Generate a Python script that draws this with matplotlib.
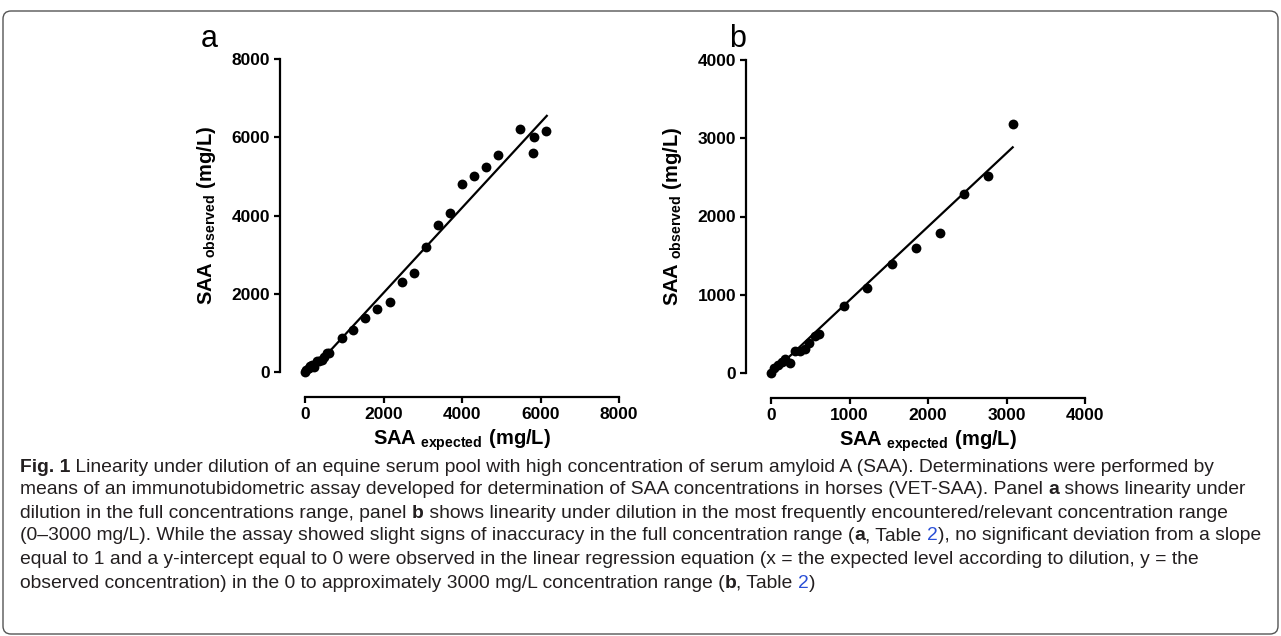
import numpy as np
import matplotlib
matplotlib.use("Agg")
import matplotlib.pyplot as plt
from matplotlib.patches import FancyBboxPatch
from matplotlib.transforms import IdentityTransform

# low range (panel b, also in panel a)
expected_low = [0, 38, 93, 136, 178, 242, 306, 369, 433, 488, 561, 616,
                930, 1227, 1541, 1843, 2153, 2463, 2769, 3079]
observed_low = [0, 60, 102, 145, 175, 124, 285, 285, 302, 379, 473, 498,
                861, 1082, 1389, 1602, 1793, 2288, 2522, 3187]
# high range (panel a only)
expected_high = [3389, 3695, 4000, 4315, 4620, 4926, 5487, 5810, 5840, 6149]
observed_high = [3757, 4056, 4797, 5018, 5240, 5538, 6211, 5589, 5998, 6160]

# regression lines (slope, intercept, x start, x end)
fit_a = (1.088, -155, 150, 6160)
fit_b = (0.94, -10, 30, 3079)

ticks_a = [0, 2000, 4000, 6000, 8000]
ticks_b = [0, 1000, 2000, 3000, 4000]

plt.rcParams['font.family'] = ['Liberation Sans', 'DejaVu Sans']
plt.rcParams['mathtext.fontset'] = 'custom'
plt.rcParams['mathtext.rm'] = 'Liberation Sans'
plt.rcParams['mathtext.bf'] = 'Liberation Sans:bold'

W, H = 1281, 636
fig = plt.figure(figsize=(W / 100, H / 100), dpi=100)

def panel(left, top, ticks, xs, ys, fit, letter, letter_x):
    ax = fig.add_axes([left / W, (H - top - 313) / H, 314 / W, 313 / H])
    ax.scatter(xs, ys, s=50, color='black', zorder=3, clip_on=False, linewidths=0)
    xx = np.array([fit[2], fit[3]])
    ax.plot(xx, fit[0] * xx + fit[1], color='black', lw=1.6, clip_on=False)
    ax.set_xlim(ticks[0], ticks[-1])
    ax.set_ylim(ticks[0], ticks[-1])
    ax.set_xticks(ticks)
    ax.set_yticks(ticks)
    for s in ['top', 'right']:
        ax.spines[s].set_visible(False)
    for s in ['left', 'bottom']:
        ax.spines[s].set_position(('outward', 18))
        ax.spines[s].set_linewidth(1.6)
    ax.tick_params(length=4, width=1.6, labelsize=12.5, pad=3)
    for lab in ax.get_xticklabels() + ax.get_yticklabels():
        lab.set_fontweight('bold')
    ax.set_xlabel(r'$\mathbf{SAA}_{\ \mathbf{expected}}\ \mathbf{(mg/L)}$', fontsize=14.5, labelpad=4)
    ax.set_ylabel(r'$\mathbf{SAA}_{\ \mathbf{observed}}\ \mathbf{(mg/L)}$', fontsize=14.5, labelpad=10)
    fig.text(letter_x / W, (H - 39) / H, letter, fontsize=22, ha='center', va='center')
    return ax

panel(305, 59, ticks_a, expected_low + expected_high, observed_low + observed_high,
      fit_a, 'a', 209)
panel(771, 60, ticks_b, expected_low, observed_low, fit_b, 'b', 738)

# border
fig.patches.append(FancyBboxPatch((3, 2), W - 6, H - 13, boxstyle='round,pad=0,rounding_size=8',
                                  transform=IdentityTransform(), fill=False,
                                  edgecolor='#555555', lw=1.0, figure=fig))

# caption
cap_font = ['Liberation Sans', 'DejaVu Sans']
ink = '#231f20'
link = '#2a4fd6'
caption = [
    [('Fig. 1', 'bold', ink), (' Linearity under dilution of an equine serum pool with high concentration of serum amyloid A (SAA). Determinations were performed by', 'normal', ink)],
    [('means of an immunotubidometric assay developed for determination of SAA concentrations in horses (VET-SAA). Panel ', 'normal', ink), ('a', 'bold', ink), (' shows linearity under', 'normal', ink)],
    [('dilution in the full concentrations range, panel ', 'normal', ink), ('b', 'bold', ink), (' shows linearity under dilution in the most frequently encountered/relevant concentration range', 'normal', ink)],
    [('(0\u20133000 mg/L). While the assay showed slight signs of inaccuracy in the full concentration range (', 'normal', ink), ('a', 'bold', ink), (', Table ', 'normal', ink), ('2', 'normal', link), ('), no significant deviation from a slope', 'normal', ink)],
    [('equal to 1 and a y-intercept equal to 0 were observed in the linear regression equation (x = the expected level according to dilution, y = the', 'normal', ink)],
    [('observed concentration) in the 0 to approximately 3000 mg/L concentration range (', 'normal', ink), ('b', 'bold', ink), (', Table ', 'normal', ink), ('2', 'normal', link), (')', 'normal', ink)],
]
line_y = [467, 490, 513, 536, 560, 583]

renderer = fig.canvas.get_renderer()

def advance(txt, weight, size):
    t1 = fig.text(0, 0, txt + '|', family=cap_font, fontsize=size, weight=weight)
    t2 = fig.text(0, 0, '|', family=cap_font, fontsize=size, weight=weight)
    w = t1.get_window_extent(renderer).width - t2.get_window_extent(renderer).width
    t1.remove()
    t2.remove()
    return w

# size the caption so that the fourth line runs to the right margin, as in the source
w4 = sum(advance(t, wt, 12) for t, wt, c in caption[3])
cap_size = 12 * (1262 - 20) / w4

for parts, yy in zip(caption, line_y):
    x = 20
    for txt, weight, color in parts:
        fig.text(x, H - yy, txt, family=cap_font, fontsize=cap_size, weight=weight,
                 color=color, va='center', ha='left', transform=IdentityTransform())
        x += advance(txt, weight, cap_size)

fig.savefig('out.png', dpi=100)
